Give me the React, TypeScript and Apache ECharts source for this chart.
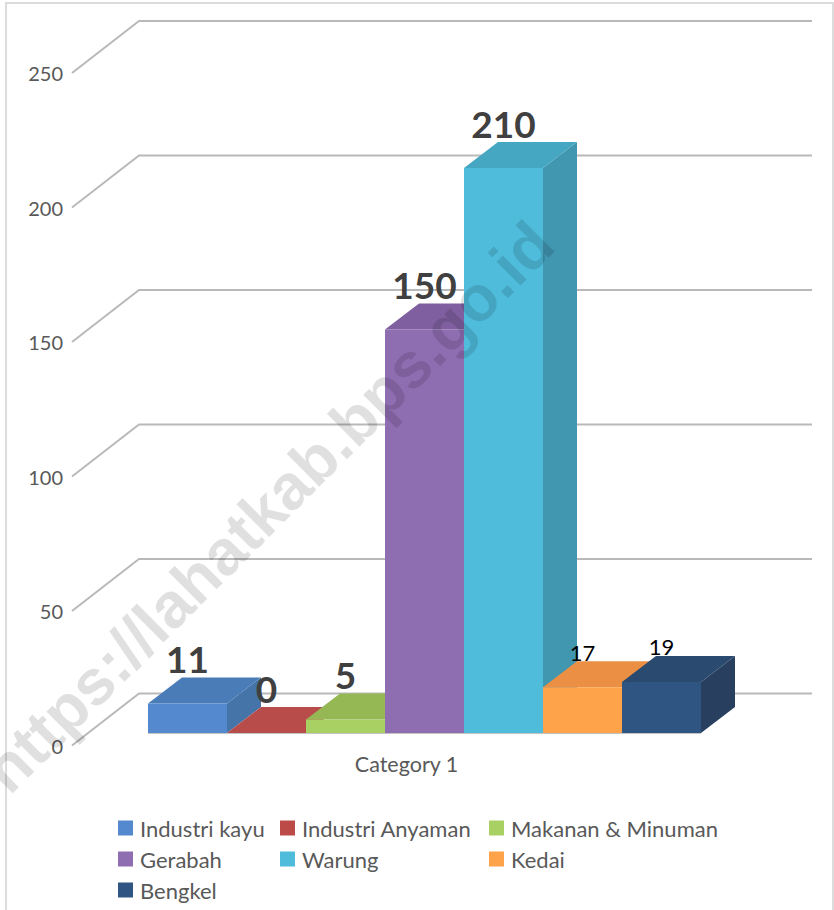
import React, { useEffect, useRef } from "react";
import * as echarts from "echarts";

const categories = ["Category 1"];
const seriesNames = ["Industri kayu", "Industri Anyaman", "Makanan & Minuman", "Gerabah", "Warung", "Kedai", "Bengkel"];
const seriesValues = [11, 0, 5, 150, 210, 17, 19];
const gridValues = [0, 50, 100, 150, 200, 250];
const legendColumns = [
  ["Industri kayu", "Gerabah", "Bengkel"],
  ["Industri Anyaman", "Warung"],
  ["Makanan & Minuman", "Kedai"],
];
const legendLefts = [118, 280, 489];
const frontColors = ["#5489d0", "#bc4b48", "#a9d062", "#8e6db1", "#4fbcdb", "#ffa34a", "#2f5682"];
const topColors = ["#4a7cb8", "#b84c4a", "#95b754", "#7f5f9f", "#45a7c2", "#ea8f43", "#2a4a70"];
const sideColors = ["#4574a9", "#a84543", "#87a54d", "#735690", "#4196b0", "#d8843e", "#283f60"];
const WATERMARK = "https://lahatkab.bps.go.id";
const FONT = "Lato";

// 3D projection constants
const WALL_DX = 67, WALL_DY = -52, WALL_RIGHT = 812;
const BAR_SHIFT_X = 76, BAR_SHIFT_Y = -12.5, BAR_DX = 34, BAR_DY = -26, BAR_WIDTH = 79;

function App() {
  const ref = useRef<HTMLDivElement>(null);
  useEffect(() => {
    const chart = echarts.init(ref.current!, undefined, { renderer: "svg" });

    const wallSeries: any = {
      type: "custom",
      silent: true,
      data: gridValues.map((v) => [0, v]),
      renderItem: (params: any, api: any) => {
        const p = api.coord([0, api.value(1)]);
        const left = params.coordSys.x;
        return {
          type: "polyline",
          shape: { points: [[left, p[1]], [left + WALL_DX, p[1] + WALL_DY], [WALL_RIGHT, p[1] + WALL_DY]] },
          style: { stroke: "#b9b9b9", lineWidth: 2, fill: "none" },
        };
      },
    };

    const barSeries: any[] = seriesNames.map((name, i) => ({
      type: "custom",
      name,
      itemStyle: { color: frontColors[i] },
      data: [[0, seriesValues[i]]],
      renderItem: (params: any, api: any) => {
        const value = api.value(1);
        const base = api.coord([0, 0])[1] + BAR_SHIFT_Y;
        const top = api.coord([0, value])[1] + BAR_SHIFT_Y;
        const x0 = params.coordSys.x + BAR_SHIFT_X + i * BAR_WIDTH;
        const x1 = x0 + BAR_WIDTH;
        const big = i < 5;
        const children: any[] = [];
        if (value > 0) {
          children.push({
            type: "polygon",
            shape: { points: [[x1, base], [x1 + BAR_DX, base + BAR_DY], [x1 + BAR_DX, top + BAR_DY], [x1, top]] },
            style: { fill: sideColors[i] },
          });
        }
        children.push({
          type: "polygon",
          shape: { points: [[x0, top], [x1, top], [x1 + BAR_DX, top + BAR_DY], [x0 + BAR_DX, top + BAR_DY]] },
          style: { fill: topColors[i] },
        });
        if (value > 0) {
          children.push({
            type: "polygon",
            shape: { points: [[x0, base], [x1, base], [x1, top], [x0, top]] },
            style: { fill: frontColors[i] },
          });
        }
        children.push({
          type: "line",
          shape: { x1: x0, y1: base + 0.5, x2: x1, y2: base + 0.5 },
          style: { stroke: "#c4c4c4", lineWidth: 1 },
        });
        children.push({
          type: "text",
          style: {
            text: String(seriesValues[i]),
            x: (x0 + x1) / 2,
            y: top + (big ? -45 : -35),
            align: "center",
            verticalAlign: "middle",
            fontFamily: FONT,
            fontSize: big ? 37 : 22,
            fontWeight: big ? "bold" : "normal",
            fill: big ? "#404040" : "#000000",
          },
        });
        return { type: "group", children };
      },
    }));

    chart.setOption({
      animation: false,
      textStyle: { fontFamily: FONT },
      grid: { left: 72, right: 92, top: 73, bottom: 164.5 },
      xAxis: {
        type: "category",
        data: categories,
        axisLine: { show: false },
        axisTick: { show: false },
        splitLine: { show: false },
        axisLabel: { color: "#595959", fontSize: 21.5, margin: 7, fontFamily: FONT, padding: [0, 1, 0, 0] },
      },
      yAxis: {
        type: "value",
        min: 0,
        max: 250,
        interval: 50,
        axisLine: { show: false },
        axisTick: { show: false },
        splitLine: { show: false },
        axisLabel: { color: "#595959", fontSize: 20, margin: 9, fontFamily: FONT },
      },
      legend: legendColumns.map((data, c) => ({
        data,
        orient: "vertical",
        left: legendLefts[c],
        top: 817,
        itemWidth: 15,
        itemHeight: 15,
        itemGap: 9,
        icon: "rect",
        selectedMode: false,
        padding: 0,
        textStyle: { color: "#595959", fontSize: 22, fontFamily: FONT, padding: [0, 0, 0, 2], lineHeight: 15 },
      })),
      series: [wallSeries, ...barSeries],
      graphic: [
        {
          type: "rect",
          z: 1,
          shape: { x: 6, y: 3, width: 827, height: 930 },
          style: { fill: "none", stroke: "#dcdcdc", lineWidth: 2 },
        },
        {
          type: "text",
          z: 100,
          x: 268,
          y: 507,
          rotation: Math.PI / 4,
          style: {
            text: WATERMARK,
            align: "center",
            verticalAlign: "middle",
            fontFamily: "Liberation Sans",
            fontWeight: "bold",
            fontSize: 64,
            fill: "rgba(0,0,0,0.12)",
          },
        },
      ],
    });
    return () => chart.dispose();
  }, []);
  return <div ref={ref} style={{ position: "absolute", left: 0, top: 0, width: 834, height: 910, background: "#fff" }} />;
}

export default App;
